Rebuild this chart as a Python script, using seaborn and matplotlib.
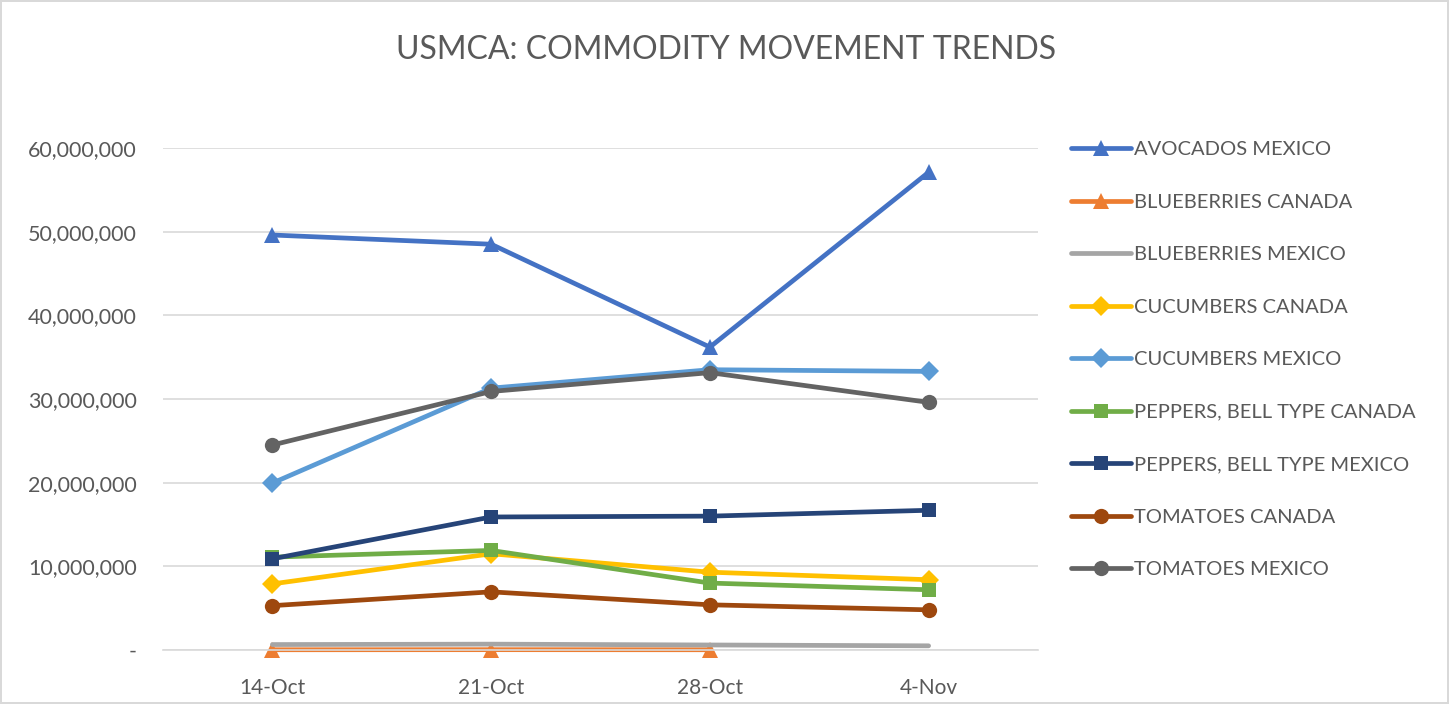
import matplotlib
matplotlib.use("Agg")
import matplotlib.pyplot as plt
import matplotlib.ticker as mticker
import numpy as np
import pandas as pd
import seaborn as sns

# data
weeks = ["14-Oct", "21-Oct", "28-Oct", "4-Nov"]
series_names = [
    "AVOCADOS MEXICO",
    "BLUEBERRIES CANADA",
    "BLUEBERRIES MEXICO",
    "CUCUMBERS CANADA",
    "CUCUMBERS MEXICO",
    "PEPPERS, BELL TYPE CANADA",
    "PEPPERS, BELL TYPE MEXICO",
    "TOMATOES CANADA",
    "TOMATOES MEXICO",
]
avocados_mx = [49600000, 48500000, 36200000, 57100000]
blueberries_ca = [30000, 40000, 30000, np.nan]
blueberries_mx = [650000, 700000, 600000, 500000]
cucumbers_ca = [7900000, 11500000, 9300000, 8400000]
cucumbers_mx = [19950000, 31300000, 33500000, 33300000]
peppers_ca = [11100000, 11900000, 8000000, 7200000]
peppers_mx = [10900000, 15900000, 16000000, 16700000]
tomatoes_ca = [5300000, 6950000, 5400000, 4800000]
tomatoes_mx = [24500000, 30900000, 33150000, 29600000]

values = [avocados_mx, blueberries_ca, blueberries_mx, cucumbers_ca, cucumbers_mx,
          peppers_ca, peppers_mx, tomatoes_ca, tomatoes_mx]
colors = ["#4472C4", "#ED7D31", "#A5A5A5", "#FFC000", "#5B9BD5",
          "#70AD47", "#264478", "#9E480E", "#636363"]
markers = ["^", "^", None, "D", "D", "s", "s", "o", "o"]
msizes = [11, 11, 0, 10, 10, 10, 10, 11, 11]

sns.set_style("white")
plt.rcParams["font.family"] = ["Lato", "DejaVu Sans"]

fig = plt.figure(figsize=(14.49, 7.04), dpi=100)
fig.patch.set_edgecolor("#d9d9d9")
fig.patch.set_linewidth(1.5)
ax = fig.add_axes([163 / 1449, 1 - 650 / 704, (1038 - 163) / 1449, (650 - 148) / 704])

for name, vals, c, m, ms in zip(series_names, values, colors, markers, msizes):
    df = pd.DataFrame({"x": np.arange(len(weeks)), "y": vals}).dropna()
    sns.lineplot(data=df, x="x", y="y", ax=ax, color=c, linewidth=3.4,
                 marker=m if m else None, markersize=ms, markeredgewidth=0,
                 label=name, clip_on=False)

ax.set_xlim(-0.5, len(weeks) - 0.5)
ax.set_ylim(0, 60000000)
ax.set_xticks(np.arange(len(weeks)))
ax.set_xticklabels(weeks)
ax.set_yticks(np.arange(0, 60000001, 10000000))
ax.yaxis.set_major_formatter(mticker.FuncFormatter(
    lambda v, p: "-" if v == 0 else f"{int(v):,}"))
ax.grid(axis="y", color="#d9d9d9", linewidth=1.2)
ax.set_axisbelow(True)
for s in ["top", "right", "left"]:
    ax.spines[s].set_visible(False)
ax.spines["bottom"].set_color("#d9d9d9")
ax.spines["bottom"].set_linewidth(1.2)
ax.tick_params(axis="y", length=0, labelsize=15.5, colors="#595959", pad=19)
ax.tick_params(axis="x", length=0, labelsize=15, colors="#595959", pad=20)
ax.set_xlabel("")
ax.set_ylabel("")

fig.text(726 / 1449, 1 - 50 / 704, "USMCA: COMMODITY MOVEMENT TRENDS",
         ha="center", va="center", fontsize=23, color="#595959")

ax.legend(loc="upper left", bbox_to_anchor=(1071 / 1449, 1 - 141 / 704),
          bbox_transform=fig.transFigure, frameon=False, fontsize=14.5,
          labelcolor="#595959", handlelength=3.0, handletextpad=0.15,
          labelspacing=1.76, borderpad=0, borderaxespad=0)

fig.savefig("out.png", dpi=100)
